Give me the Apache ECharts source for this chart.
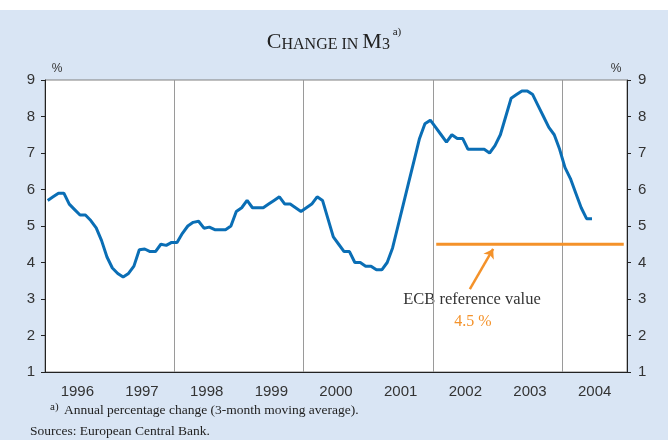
<!DOCTYPE html>
<html>
<head>
<meta charset="utf-8">
<script src="https://cdn.jsdelivr.net/npm/echarts@6/dist/echarts.min.js"></script>
<style>
html, body { margin: 0; padding: 0; background: #fff; }
#chart { width: 668px; height: 440px; }
</style>
</head>
<body>
<div id="chart"></div>
<script>
// year labels on the time axis
var years = ['1996', '1997', '1998', '1999', '2000', '2001', '2002', '2003', '2004'];
var firstYear = 1996;
var lastYear = 2005;

// M3 annual growth, 3-month moving average, monthly from Jan 1996 to Jun 2004
var m3Growth = [
    5.7, 5.8, 5.9, 5.9, 5.6, 5.45, 5.3, 5.3, 5.15, 4.95, 4.6, 4.15,
    3.85, 3.7, 3.6, 3.7, 3.9, 4.35, 4.37, 4.3, 4.3, 4.5, 4.47, 4.55,
    4.55, 4.8, 5.0, 5.1, 5.13, 4.94, 4.97, 4.9, 4.9, 4.9, 5.0, 5.4,
    5.5, 5.7, 5.5, 5.5, 5.5, 5.6, 5.7, 5.8, 5.6, 5.6, 5.5, 5.4,
    5.5, 5.6, 5.8, 5.7, 5.2, 4.7, 4.5, 4.3, 4.3, 4.0, 4.0, 3.9,
    3.9, 3.8, 3.8, 4.0, 4.4, 5.0, 5.6, 6.2, 6.8, 7.4, 7.8, 7.9,
    7.7, 7.5, 7.3, 7.5, 7.4, 7.4, 7.1, 7.1, 7.1, 7.1, 7.0, 7.2,
    7.5, 8.0, 8.5, 8.6, 8.7, 8.7, 8.6, 8.3, 8.0, 7.7, 7.5, 7.1,
    6.6, 6.3, 5.9, 5.5, 5.2, 5.2
];

// ECB reference value and its annotation
var refValue = 4.5;
var refSpan = [2002.05, 2004.95];
var arrowFrom = [2002.57, 3.27];
var arrowTo = [2002.93, 4.37];

var blue = '#0A6EB5';
var orange = '#F4922A';
var axisColor = '#222';
var labelColor = '#333';

var m3Data = m3Growth.map(function (v, i) {
    return [firstYear + (i + 0.5) / 12, v];
});

var myChart = echarts.init(document.getElementById('chart'));

var yAxisBase = {
    type: 'value',
    min: 1,
    max: 9,
    interval: 1,
    axisLine: { show: true, lineStyle: { color: axisColor, width: 1 } },
    axisTick: { show: true, length: 4, lineStyle: { color: axisColor } },
    axisLabel: { color: labelColor, fontFamily: 'Liberation Sans', fontSize: 15, margin: 10 },
    splitLine: { show: false }
};

var option = {
    animation: false,
    backgroundColor: '#D9E5F4',
    title: {
        left: 'center',
        top: 22,
        text: '{b|C}{s|HANGE IN }{b|M}{s|3}{sup| a)}',
        textStyle: {
            fontWeight: 'normal',
            rich: {
                b: { fontFamily: 'Liberation Serif', fontWeight: 'normal', fontSize: 22, color: '#222', verticalAlign: 'bottom', lineHeight: 26 },
                s: { fontFamily: 'Liberation Serif', fontWeight: 'normal', fontSize: 16, color: '#222', verticalAlign: 'bottom', lineHeight: 26 },
                sup: { fontFamily: 'Liberation Serif', fontWeight: 'normal', fontSize: 11, color: '#222', verticalAlign: 'top', lineHeight: 26, padding: [0, 0, 12, 0] }
            }
        }
    },
    grid: {
        left: 45,
        right: 41,
        top: 80,
        bottom: 68,
        show: true,
        backgroundColor: '#fff',
        borderColor: '#808080',
        borderWidth: 1
    },
    xAxis: [
        {
            type: 'category',
            data: years,
            boundaryGap: true,
            position: 'bottom',
            axisLine: { lineStyle: { color: axisColor, width: 1 } },
            axisTick: { inside: true, length: 4, lineStyle: { color: axisColor } },
            axisLabel: { color: labelColor, fontFamily: 'Liberation Sans', fontSize: 15, margin: 12 },
            splitLine: { show: false }
        },
        {
            type: 'value',
            min: firstYear,
            max: lastYear,
            interval: 2,
            position: 'top',
            axisLine: { show: false },
            axisTick: { show: false },
            axisLabel: { show: false },
            splitLine: { show: true, lineStyle: { color: '#9a9a9a', width: 1 } }
        }
    ],
    yAxis: [
        Object.assign({}, yAxisBase, { position: 'left' }),
        Object.assign({}, yAxisBase, { position: 'right', axisLabel: Object.assign({}, yAxisBase.axisLabel, { margin: 11 }) })
    ],
    series: [
        {
            name: 'M3',
            type: 'line',
            xAxisIndex: 1,
            yAxisIndex: 0,
            data: m3Data,
            showSymbol: false,
            symbol: 'none',
            lineStyle: { color: blue, width: 3 },
            z: 3
        },
        {
            name: 'ECB reference value',
            type: 'line',
            xAxisIndex: 1,
            yAxisIndex: 0,
            data: [[refSpan[0], refValue], [refSpan[1], refValue]],
            symbol: 'none',
            lineStyle: { color: orange, width: 3 },
            z: 2,
            markLine: {
                silent: true,
                symbol: ['none', 'arrow'],
                symbolSize: 9,
                label: { show: false },
                lineStyle: { color: orange, width: 2.5, type: 'solid' },
                data: [[{ coord: arrowFrom }, { coord: arrowTo }]]
            }
        }
    ],
    graphic: [
        { type: 'rect', shape: { x: 0, y: 0, width: 668, height: 10 }, style: { fill: '#fff' }, silent: true },
        { type: 'text', x: 57, y: 69, style: { text: '%', fill: labelColor, font: '12px "Liberation Sans"', textAlign: 'center', textVerticalAlign: 'middle' } },
        { type: 'text', x: 616, y: 69, style: { text: '%', fill: labelColor, font: '12px "Liberation Sans"', textAlign: 'center', textVerticalAlign: 'middle' } },
        { type: 'text', x: 472, y: 300, style: { text: 'ECB reference value', fill: '#333', font: '16.5px "Liberation Serif"', textAlign: 'center', textVerticalAlign: 'middle' } },
        { type: 'text', x: 473, y: 322, style: { text: '4.5 %', fill: orange, font: '16px "Liberation Serif"', textAlign: 'center', textVerticalAlign: 'middle' } },
        { type: 'text', x: 50, y: 407, style: { text: 'a)', fill: '#222', font: '11px "Liberation Serif"', textAlign: 'left', textVerticalAlign: 'middle' } },
        { type: 'text', x: 64, y: 410, style: { text: 'Annual percentage change (3-month moving average).', fill: '#222', font: '13.5px "Liberation Serif"', textAlign: 'left', textVerticalAlign: 'middle' } },
        { type: 'text', x: 30, y: 431, style: { text: 'Sources: European Central Bank.', fill: '#222', font: '13.5px "Liberation Serif"', textAlign: 'left', textVerticalAlign: 'middle' } }
    ]
};

myChart.setOption(option);
</script>
</body>
</html>
